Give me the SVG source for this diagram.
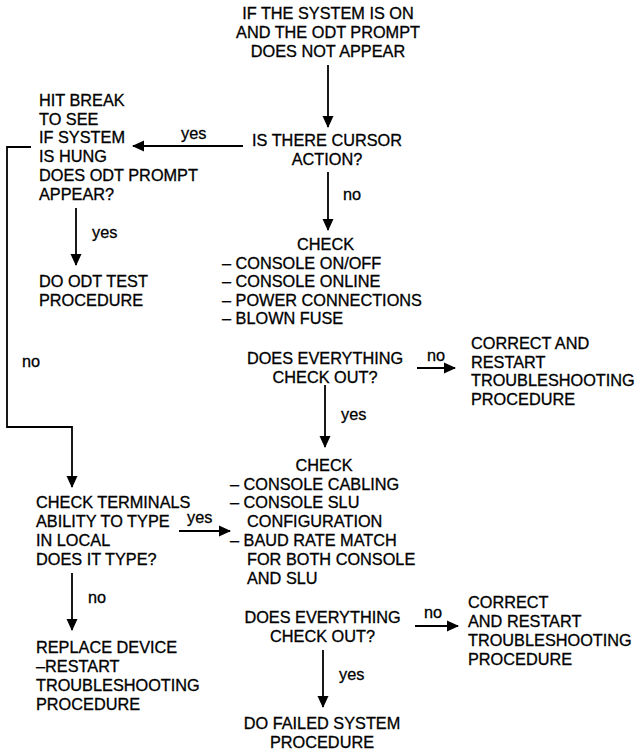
<svg xmlns="http://www.w3.org/2000/svg" width="638" height="752" viewBox="0 0 638 752">
<style>
text { font-family: "Liberation Sans", Arial, Helvetica, sans-serif; font-size: 16.3px; fill: #000; stroke: #000; stroke-width: 0.3; }
.c { text-anchor: middle; }
.lbl { font-size: 16.3px; }
.ln { fill: none; stroke: #000; stroke-width: 1.8; }
</style>
<defs>
<marker id="ah" markerUnits="userSpaceOnUse" markerWidth="12" markerHeight="12" viewBox="0 0 12 12" refX="11" refY="6" orient="auto">
<path d="M0,0.5 L12,6 L0,11.5 Z" fill="#000"/>
</marker>
</defs>
<rect width="638" height="752" fill="#fff"/>

<g id="connectors">
<line class="ln" x1="328" y1="65" x2="328" y2="127" marker-end="url(#ah)"/>
<line class="ln" x1="243" y1="146" x2="133" y2="146" marker-end="url(#ah)"/>
<polyline class="ln" points="31,147 7,147 7,427 72,427 72,487" marker-end="url(#ah)"/>
<line class="ln" x1="76" y1="208" x2="76" y2="265" marker-end="url(#ah)"/>
<line class="ln" x1="328" y1="172" x2="328" y2="230" marker-end="url(#ah)"/>
<line class="ln" x1="417" y1="368" x2="455" y2="368" marker-end="url(#ah)"/>
<line class="ln" x1="325" y1="385" x2="325" y2="447" marker-end="url(#ah)"/>
<line class="ln" x1="179" y1="531" x2="230" y2="531" marker-end="url(#ah)"/>
<line class="ln" x1="72" y1="573" x2="72" y2="630" marker-end="url(#ah)"/>
<line class="ln" x1="415" y1="626" x2="458" y2="626" marker-end="url(#ah)"/>
<line class="ln" x1="323" y1="650" x2="323" y2="707" marker-end="url(#ah)"/>
<text class="lbl" x="181" y="139">yes</text>
<text class="lbl" x="92" y="238">yes</text>
<text class="lbl" x="343" y="200">no</text>
<text class="lbl" x="22" y="367">no</text>
<text class="lbl" x="427" y="361">no</text>
<text class="lbl" x="341" y="420">yes</text>
<text class="lbl" x="187" y="523">yes</text>
<text class="lbl" x="88" y="603">no</text>
<text class="lbl" x="424" y="618">no</text>
<text class="lbl" x="339" y="680">yes</text>
</g>

<g id="start">
<text class="c" x="328" y="19">IF THE SYSTEM IS ON</text>
<text class="c" x="328" y="38">AND THE ODT PROMPT</text>
<text class="c" x="328" y="57">DOES NOT APPEAR</text>
</g>

<g id="cursor">
<text class="c" x="327" y="146">IS THERE CURSOR</text>
<text class="c" x="327" y="165">ACTION?</text>
</g>

<g id="hitbreak">
<text x="39" y="106">HIT BREAK</text>
<text x="39" y="125">TO SEE</text>
<text x="39" y="143">IF SYSTEM</text>
<text x="39" y="162">IS HUNG</text>
<text x="39" y="181">DOES ODT PROMPT</text>
<text x="39" y="200">APPEAR?</text>
</g>

<g id="odttest">
<text x="39" y="287">DO ODT TEST</text>
<text x="39" y="306">PROCEDURE</text>
</g>

<g id="check1">
<text class="c" x="325.5" y="250">CHECK</text>
<text x="222" y="268.5">– CONSOLE ON/OFF</text>
<text x="222" y="287">– CONSOLE ONLINE</text>
<text x="222" y="305.5">– POWER CONNECTIONS</text>
<text x="222" y="324">– BLOWN FUSE</text>
</g>

<g id="checkout1">
<text class="c" x="325" y="364">DOES EVERYTHING</text>
<text class="c" x="325" y="383">CHECK OUT?</text>
</g>

<g id="correct1">
<text x="471" y="349">CORRECT AND</text>
<text x="471" y="367.5">RESTART</text>
<text x="471" y="386">TROUBLESHOOTING</text>
<text x="471" y="405">PROCEDURE</text>
</g>

<g id="check2">
<text class="c" x="324" y="471">CHECK</text>
<text x="230" y="489.5">– CONSOLE CABLING</text>
<text x="230" y="508">– CONSOLE SLU</text>
<text x="247" y="527">CONFIGURATION</text>
<text x="230" y="546">– BAUD RATE MATCH</text>
<text x="247" y="565">FOR BOTH CONSOLE</text>
<text x="247" y="584">AND SLU</text>
</g>

<g id="terminals">
<text x="36" y="508">CHECK TERMINALS</text>
<text x="36" y="527">ABILITY TO TYPE</text>
<text x="36" y="546">IN LOCAL</text>
<text x="36" y="565">DOES IT TYPE?</text>
</g>

<g id="replace">
<text x="36" y="653">REPLACE DEVICE</text>
<text x="36" y="672">–RESTART</text>
<text x="36" y="691">TROUBLESHOOTING</text>
<text x="36" y="710">PROCEDURE</text>
</g>

<g id="checkout2">
<text class="c" x="322.5" y="623">DOES EVERYTHING</text>
<text class="c" x="322.5" y="642">CHECK OUT?</text>
</g>

<g id="correct2">
<text x="468" y="608">CORRECT</text>
<text x="468" y="627">AND RESTART</text>
<text x="468" y="646">TROUBLESHOOTING</text>
<text x="468" y="665">PROCEDURE</text>
</g>

<g id="failed">
<text class="c" x="322" y="729">DO FAILED SYSTEM</text>
<text class="c" x="322" y="748">PROCEDURE</text>
</g>
</svg>
